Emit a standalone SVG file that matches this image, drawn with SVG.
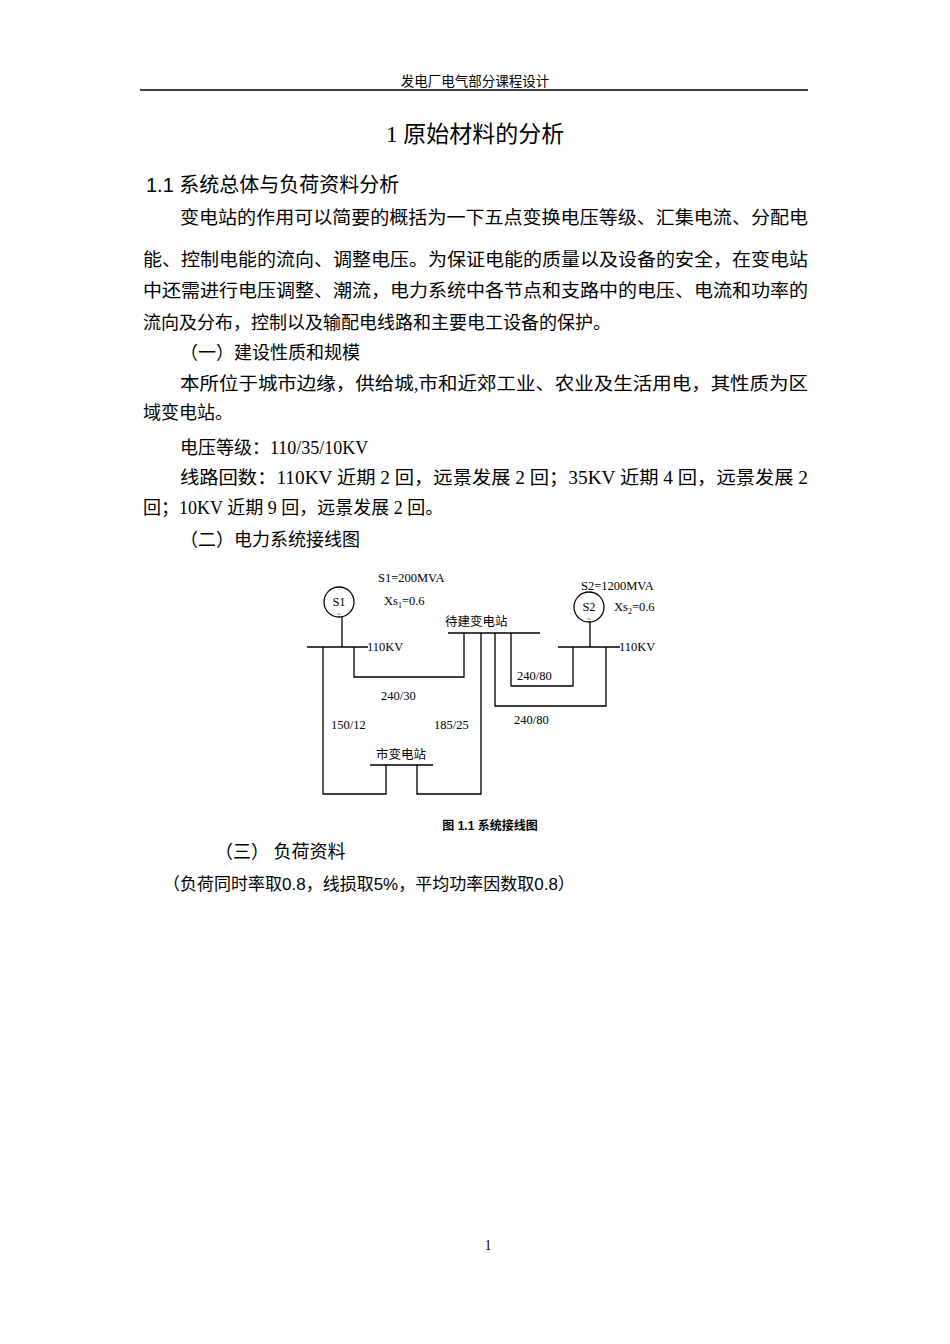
<svg xmlns="http://www.w3.org/2000/svg" width="950" height="1344" viewBox="0 0 950 1344">
<style>
.t{font-family:"Liberation Serif","Noto Sans CJK SC",serif;font-size:18px;fill:#000}
.d{font-family:"Liberation Serif","Noto Sans CJK SC",serif;font-size:12.5px;fill:#000}
.w{fill:none;stroke:#000;stroke-width:1.3}
</style>
<rect width="950" height="1344" fill="#fff"/>
<text x="475" y="86" text-anchor="middle" class="t" style="font-size:13.5px">发电厂电气部分课程设计</text>
<line x1="140" y1="90" x2="808" y2="90" stroke="#000" stroke-width="1.5"/>
<text x="475" y="142" text-anchor="middle" class="t" style="font-size:23px">1 原始材料的分析</text>
<text x="146" y="192" class="t" style="font-size:20px;font-family:'Liberation Sans','Noto Sans CJK SC',sans-serif">1.1 系统总体与负荷资料分析</text>
<text x="180" y="224" class="t" textLength="628" lengthAdjust="spacingAndGlyphs">变电站的作用可以简要的概括为一下五点变换电压等级、汇集电流、分配电</text>
<text x="143" y="266" class="t" textLength="665" lengthAdjust="spacingAndGlyphs">能、控制电能的流向、调整电压。为保证电能的质量以及设备的安全，在变电站</text>
<text x="143" y="297" class="t" textLength="665" lengthAdjust="spacingAndGlyphs">中还需进行电压调整、潮流，电力系统中各节点和支路中的电压、电流和功率的</text>
<text x="143" y="329" class="t">流向及分布，控制以及输配电线路和主要电工设备的保护。</text>
<text x="180" y="359" class="t">（一）建设性质和规模</text>
<text x="180" y="390" class="t" textLength="628" lengthAdjust="spacingAndGlyphs">本所位于城市边缘，供给城,市和近郊工业、农业及生活用电，其性质为区</text>
<text x="143" y="419" class="t">域变电站。</text>
<text x="180" y="454" class="t">电压等级：110/35/10KV</text>
<text x="180" y="484" class="t" textLength="628" lengthAdjust="spacingAndGlyphs">线路回数：110KV 近期 2 回，远景发展 2 回；35KV 近期 4 回，远景发展 2</text>
<text x="143" y="514" class="t">回；10KV 近期 9 回，远景发展 2 回。</text>
<text x="180" y="546" class="t">（二）电力系统接线图</text>

<g id="connectors" class="w">
<path d="M342 617V647"/>
<path d="M590 622V647"/>
<path d="M323 647V794H386V765"/>
<path d="M354 647V677H464V633"/>
<path d="M481 633V794H417V765"/>
<path d="M495 633V706H606V647"/>
<path d="M511 633V686H573V647"/>
</g>
<g id="S1"><circle cx="339" cy="602" r="15" class="w"/><text x="339" y="606" text-anchor="middle" class="d">S1</text><text x="339" y="616" text-anchor="middle" class="d" style="font-size:7px">~</text></g>
<g id="S2"><circle cx="589" cy="607" r="15" class="w"/><text x="589" y="611" text-anchor="middle" class="d">S2</text><text x="589" y="621" text-anchor="middle" class="d" style="font-size:7px">~</text></g>
<g id="bus-left"><line x1="307" y1="647" x2="368" y2="647" class="w"/><text x="367" y="651" class="d">110KV</text></g>
<g id="bus-right"><line x1="558" y1="647" x2="620" y2="647" class="w"/><text x="619" y="651" class="d">110KV</text></g>
<g id="bus-new"><line x1="448" y1="633" x2="540" y2="633" class="w"/><text x="445" y="626" class="d">待建变电站</text></g>
<g id="bus-city"><line x1="370" y1="765" x2="433" y2="765" class="w"/><text x="376" y="759" class="d">市变电站</text></g>
<g id="labels">
<text x="378" y="582" class="d">S1=200MVA</text>
<text x="384" y="605" class="d">Xs<tspan dy="3" style="font-size:8px">1</tspan><tspan dy="-3">=0.6</tspan></text>
<text x="581" y="590" class="d">S2=1200MVA</text>
<text x="614" y="611" class="d">Xs<tspan dy="3" style="font-size:8px">2</tspan><tspan dy="-3">=0.6</tspan></text>
<text x="381" y="700" class="d">240/30</text>
<text x="331" y="729" class="d">150/12</text>
<text x="434" y="729" class="d">185/25</text>
<text x="517" y="680" class="d">240/80</text>
<text x="514" y="724" class="d">240/80</text>
</g>
<text x="490" y="830" text-anchor="middle" class="d" style="font-family:'Liberation Sans','Noto Sans CJK SC',sans-serif;font-size:12px;font-weight:bold">图 1.1  系统接线图</text>
<text x="215" y="858" class="t">（三）  负荷资料</text>
<text x="163" y="890" class="t" style="font-family:'Liberation Sans','Noto Sans CJK SC',sans-serif;font-size:17px">（负荷同时率取0.8，线损取5%，平均功率因数取0.8）</text>
<text x="488" y="1250" text-anchor="middle" class="t" style="font-size:14px">1</text>
</svg>
